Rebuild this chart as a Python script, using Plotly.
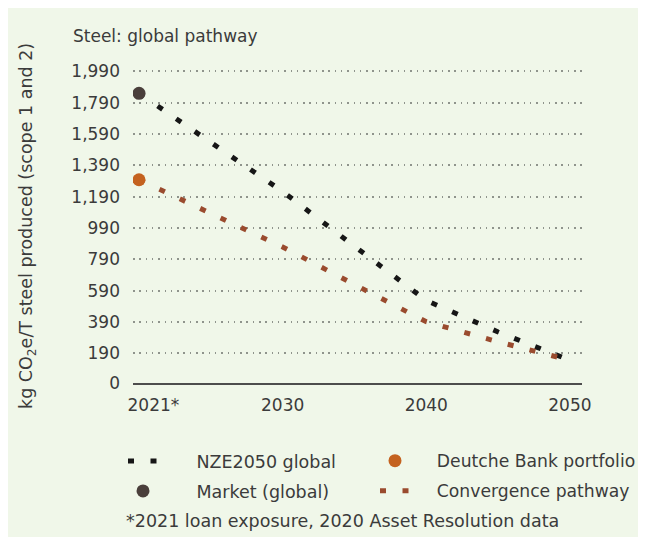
import plotly.graph_objects as go

# ---- data ----
years = [2020, 2025, 2030, 2035, 2040, 2045, 2050]
nze_global = [1850, 1535, 1223, 873, 527, 326, 145]
convergence = [1298, 1086, 869, 629, 391, 263, 145]
market_year = [2020]
market_value = [1850]
db_year = [2020]
db_value = [1298]

y_ticks = [0, 190, 390, 590, 790, 990, 1190, 1390, 1590, 1790, 1990]
y_ticktext = ["0", "190", "390", "590", "790", "990", "1,190", "1,390", "1,590", "1,790", "1,990"]
x_ticks = [2021, 2030, 2040, 2050]
x_ticktext = ["2021*", "2030", "2040", "2050"]

title_text = "Steel: global pathway"
y_title = "kg CO<sub>2</sub>e/T steel produced (scope 1 and 2)"
footnote = "*2021 loan exposure, 2020 Asset Resolution data"

# ---- layout constants (figure sits 8px in from the page edge) ----
OFF = 8
W, H = 646 - OFF, 537 - OFF
L, R, T, B = 125, 64, 52, 154
PW, PH = W - L - R, H - T - B


def px(x):  # page x -> paper fraction
    return (x - OFF - L) / PW


def py(y):  # page y -> paper fraction
    return (H - B - (y - OFF)) / PH


FONT = "DejaVu Sans"
TXT = "#3b3b3b"
BLACK = "#161616"
RUST = "#9a4b2e"
ORANGE = "#c4621f"
MARKET = "#4a3f3b"
BG = "#f0f7e9"
NB = "\u00a0"

fig = go.Figure()

fig.add_trace(go.Scatter(
    x=years, y=nze_global, mode="lines", name=NB * 6 + "NZE2050 global",
    line=dict(color=BLACK, width=5, dash="6px,16.5px"),
    legend="legend", hoverinfo="skip"))
fig.add_trace(go.Scatter(
    x=years, y=convergence, mode="lines", name=NB * 4 + "Convergence pathway",
    line=dict(color=RUST, width=5, dash="6px,16.5px"),
    legend="legend4", hoverinfo="skip"))
fig.add_trace(go.Scatter(
    x=market_year, y=market_value, mode="markers", name=NB * 6 + "Market (global)",
    marker=dict(color=MARKET, size=13),
    legend="legend2", hoverinfo="skip"))
fig.add_trace(go.Scatter(
    x=db_year, y=db_value, mode="markers", name=NB * 4 + "Deutche Bank portfolio",
    marker=dict(color=ORANGE, size=13),
    legend="legend3", hoverinfo="skip"))


def leg(xp, yp, size):
    return dict(
        x=px(xp), y=py(yp), orientation="h", xanchor="left", yanchor="middle",
        font=dict(family=FONT, size=size, color=TXT),
        bgcolor="rgba(0,0,0,0)", itemsizing="trace",
    )


fig.update_layout(
    width=W, height=H,
    margin=dict(l=L, r=R, t=T, b=B, autoexpand=False),
    paper_bgcolor=BG,
    plot_bgcolor="rgba(0,0,0,0)",
    font=dict(family=FONT, size=17, color=TXT),
    showlegend=True,
    legend=leg(123, 461, 17.5),
    legend2=leg(123, 491, 17.5),
    legend3=leg(375, 461, 17.2),
    legend4=leg(375, 491, 17.2),
    xaxis=dict(
        range=[2019.58, 2050.84], tickvals=x_ticks, ticktext=x_ticktext,
        showgrid=False, zeroline=False, showline=True, linecolor="#4d4d4d",
        linewidth=2, ticks="", ticklabelstandoff=6,
        tickfont=dict(family=FONT, size=17, color=TXT), fixedrange=True,
    ),
    yaxis=dict(
        range=[0, 2063], tickvals=y_ticks, ticktext=y_ticktext,
        showgrid=True, gridcolor="#8f948c", gridwidth=1.5, griddash="1.5px,4.8px",
        zeroline=False, showline=False, ticks="", ticklabelstandoff=12,
        tickfont=dict(family=FONT, size=17, color=TXT), fixedrange=True,
    ),
    annotations=[
        dict(text=title_text, xref="paper", yref="paper", x=px(71), y=py(36),
             xanchor="left", yanchor="middle", showarrow=False,
             font=dict(family=FONT, size=17, color=TXT)),
        dict(text=y_title, xref="paper", yref="paper", x=px(28), y=py(226),
             xanchor="center", yanchor="middle", textangle=-90, showarrow=False,
             font=dict(family=FONT, size=17.5, color=TXT)),
        dict(text=footnote, xref="paper", yref="paper", x=px(124), y=py(521),
             xanchor="left", yanchor="middle", showarrow=False,
             font=dict(family=FONT, size=17.5, color=TXT)),
    ],
)

fig.write_html("out.html")
